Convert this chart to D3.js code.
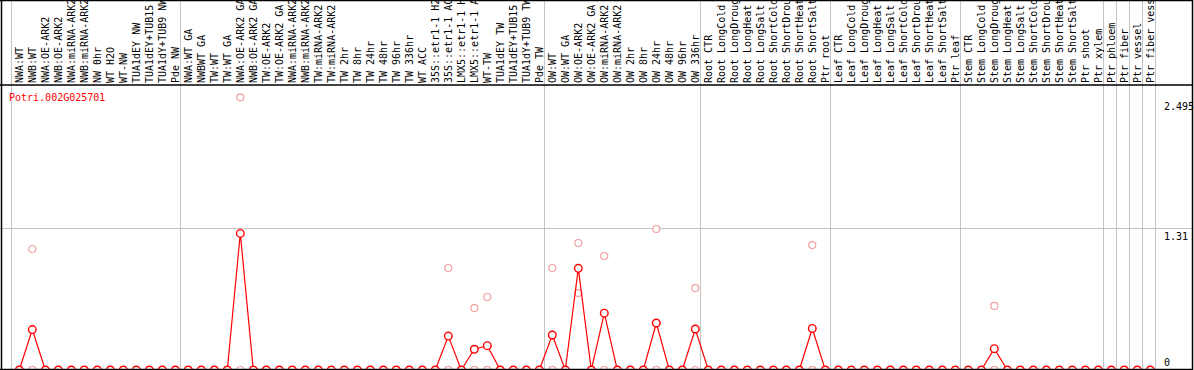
<!DOCTYPE html>
<html>
<head>
<meta charset="utf-8">
<script src="https://cdn.jsdelivr.net/npm/d3@7"></script>
<style>
  body { margin: 0; background: #fff; }
  svg { display: block; }
  text { font-family: "DejaVu Sans Mono", monospace; font-size: 10px; }
</style>
</head>
<body>
<svg width="1194" height="370"></svg>
<script>
(function (d3) {
  'use strict';

  const geneId = 'Potri.002G025701';

  // labels as far as they are visible in the header
  const labels = [
    'NWA:WT', 'NWB:WT', 'NWA:OE-ARK2', 'NWB:OE-ARK2', 'NWA:miRNA-ARK2', 'NWB:miRNA-ARK2',
    'NW 0hr', 'WT H2O', 'WT-NW', 'TUA1dEY NW', 'TUA1dEY+TUB15', 'TUA1dY+TUB9 NW', 'Pde NW',
    'NWA:WT GA', 'NWBWT GA', 'TW:WT', 'TW:WT GA', 'NWA:OE-ARK2 GA', 'NWB:OE-ARK2 GA',
    'TW:OE-ARK2', 'TW:OE-ARK2 GA', 'NWA:miRNA-ARK2', 'NWB:miRNA-ARK2', 'TW:miRNA-ARK2',
    'TW:miRNA-ARK2', 'TW 2hr', 'TW 8hr', 'TW 24hr', 'TW 48hr', 'TW 96hr', 'TW 336hr', 'WT ACC',
    '35S::etr1-1 H2', '35S::etr1-1 AC', 'LMX5::etr1-1 H', 'LMX5::etr1-1 A', 'WT-TW',
    'TUA1dEY TW', 'TUA1dEY+TUB15', 'TUA1dY+TUB9 TW', 'Pde TW',
    'OW:WT', 'OW:WT GA', 'OW:OE-ARK2', 'OW:OE-ARK2 GA', 'OW:miRNA-ARK2', 'OW:miRNA-ARK2',
    'OW 2hr', 'OW 8hr', 'OW 24hr', 'OW 48hr', 'OW 96hr', 'OW 336hr',
    'Root CTR', 'Root LongCold', 'Root LongDroug', 'Root LongHeat', 'Root LongSalt',
    'Root ShortCold', 'Root ShortDrou', 'Root ShortHeat', 'Root ShortSalt', 'Ptr root',
    'Leaf CTR', 'Leaf LongCold', 'Leaf LongDroug', 'Leaf LongHeat', 'Leaf LongSalt',
    'Leaf ShortCold', 'Leaf ShortDrou', 'Leaf ShortHeat', 'Leaf ShortSalt', 'Ptr leaf',
    'Stem CTR', 'Stem LongCold', 'Stem LongDroug', 'Stem LongHeat', 'Stem LongSalt',
    'Stem ShortCold', 'Stem ShortDrou', 'Stem ShortHeat', 'Stem ShortSalt', 'Ptr shoot',
    'Ptr xylem', 'Ptr phloem', 'Ptr fiber', 'Ptr vessel', 'Ptr fiber vess'
  ];

  // mean expression per sample
  const means = [
    0, 0.37, 0, 0, 0, 0, 0, 0, 0, 0, 0, 0, 0,
    0, 0, 0, 0, 1.25, 0, 0, 0, 0, 0, 0, 0, 0, 0, 0, 0, 0, 0, 0, 0, 0.31, 0, 0.19, 0.223, 0, 0, 0, 0,
    0.32, 0, 0.93, 0, 0.52, 0, 0, 0, 0.43, 0, 0, 0.375,
    0, 0, 0, 0, 0, 0, 0, 0, 0.38, 0,
    0, 0, 0, 0, 0, 0, 0, 0, 0, 0,
    0, 0, 0.195, 0, 0, 0, 0, 0, 0, 0, 0,
    0, 0, 0, 0
  ];

  // replicate values per sample
  const replicates = [
    [0, 0], [1.107, 0, 0], [0, 0], [0, 0], [0, 0], [0, 0], [0, 0], [0, 0], [0, 0], [0, 0], [0, 0], [0, 0], [0, 0],
    [0, 0], [0, 0], [0, 0], [0, 0], [2.495, 0], [0, 0], [0, 0], [0, 0], [0, 0], [0, 0], [0, 0], [0, 0], [0, 0], [0, 0],
    [0, 0], [0, 0], [0, 0], [0, 0], [0, 0], [0, 0], [0.933, 0, 0], [0, 0], [0.567, 0, 0], [0.668, 0, 0], [0, 0], [0, 0], [0, 0], [0, 0],
    [0.933, 0, 0], [0, 0], [1.162, 0.704], [0, 0], [1.043, 0], [0, 0], [0, 0], [0, 0], [1.29, 0, 0], [0, 0], [0, 0], [0.75, 0],
    [0, 0], [0, 0], [0, 0], [0, 0], [0, 0], [0, 0], [0, 0], [0, 0], [1.143, 0, 0], [0, 0],
    [0, 0], [0, 0], [0, 0], [0, 0], [0, 0], [0, 0], [0, 0], [0, 0], [0, 0], [0, 0],
    [0, 0], [0, 0], [0.586, 0, 0], [0, 0], [0, 0], [0, 0], [0, 0], [0, 0], [0, 0], [0, 0], [0, 0],
    [0, 0], [0, 0], [0, 0], [0, 0]
  ];

  // sample index where each group starts (last = end)
  const groupBreaks = [0, 13, 41, 53, 63, 73, 84, 85, 86, 87, 88];
  const yTicks = [2.495, 1.31, 0];
  const gridTicks = [1.31];

  const svg = d3.select('svg');
  const W = 1194, H = 370;
  const headerY = 85;

  const x = d3.scaleBand()
    .domain(d3.range(labels.length))
    .range([11, 1155])
    .paddingInner(0).paddingOuter(0);
  const px = i => x(i) + 8.3;

  const y = d3.scaleLinear()
    .domain([0, d3.max(replicates.flat())])
    .range([370, 97.3]);

  // group separators
  const edge = i => i < labels.length ? x(i) : x(labels.length - 1) + x.bandwidth();
  svg.append('g').selectAll('line')
    .data(groupBreaks)
    .enter().append('line')
    .attr('x1', d => edge(d) + 0.5).attr('x2', d => edge(d) + 0.5)
    .attr('y1', 0).attr('y2', H)
    .attr('stroke', '#c4c4c4').attr('stroke-width', 1);

  // gridline
  svg.append('g').selectAll('line')
    .data(gridTicks)
    .enter().append('line')
    .attr('x1', 0).attr('x2', 1192)
    .attr('y1', d => Math.round(y(d)) + 1.5).attr('y2', d => Math.round(y(d)) + 1.5)
    .attr('stroke', '#c4c4c4').attr('stroke-width', 1);

  // sample labels
  svg.append('g').selectAll('text')
    .data(labels)
    .enter().append('text')
    .attr('transform', (d, i) => 'translate(' + (x(i) + 11.5) + ',' + (headerY - 2) + ') rotate(-90)')
    .attr('fill', '#000')
    .text(d => d);

  // replicate points
  const repPts = [];
  replicates.forEach((r, i) => r.forEach(v => repPts.push({ i: i, v: v })));
  svg.append('g').selectAll('circle')
    .data(repPts)
    .enter().append('circle')
    .attr('cx', d => px(d.i))
    .attr('cy', d => y(d.v))
    .attr('r', 3.5)
    .attr('fill', '#fff')
    .attr('stroke', '#f0a0a0')
    .attr('stroke-width', 1.2);

  // mean line
  const line = d3.line()
    .x((d, i) => px(i))
    .y(d => y(d));
  svg.append('path')
    .datum(means)
    .attr('d', line)
    .attr('fill', 'none')
    .attr('stroke', '#ff0000')
    .attr('stroke-width', 1.2);

  svg.append('g').selectAll('circle')
    .data(means)
    .enter().append('circle')
    .attr('cx', (d, i) => px(i))
    .attr('cy', d => y(d))
    .attr('r', 3.8)
    .attr('fill', '#fff')
    .attr('stroke', '#ff0000')
    .attr('stroke-width', 1.4);

  // y labels on the right
  svg.append('g').selectAll('text')
    .data(yTicks)
    .enter().append('text')
    .attr('x', 1164)
    .attr('y', d => Math.min(y(d) + 13, 366))
    .attr('fill', '#000')
    .text(d => d);

  // gene id
  svg.append('text')
    .attr('x', 9).attr('y', 101)
    .attr('fill', '#ff0000')
    .text(geneId);

  // frame
  svg.append('line').attr('x1', 0).attr('x2', 1193).attr('y1', 0.5).attr('y2', 0.5)
    .attr('stroke', '#000').attr('stroke-width', 1.5);
  svg.append('line').attr('x1', 0).attr('x2', 1193).attr('y1', headerY).attr('y2', headerY)
    .attr('stroke', '#000').attr('stroke-width', 1.5);
  svg.append('line').attr('x1', 0).attr('x2', 1193).attr('y1', 369.5).attr('y2', 369.5)
    .attr('stroke', '#000').attr('stroke-width', 1.5);
  svg.append('line').attr('x1', 1.5).attr('x2', 1.5).attr('y1', 0).attr('y2', H)
    .attr('stroke', '#000').attr('stroke-width', 1.5);
  svg.append('line').attr('x1', 1192.5).attr('x2', 1192.5).attr('y1', 0).attr('y2', H)
    .attr('stroke', '#000').attr('stroke-width', 1.5);

}(d3));
</script>
</body>
</html>
